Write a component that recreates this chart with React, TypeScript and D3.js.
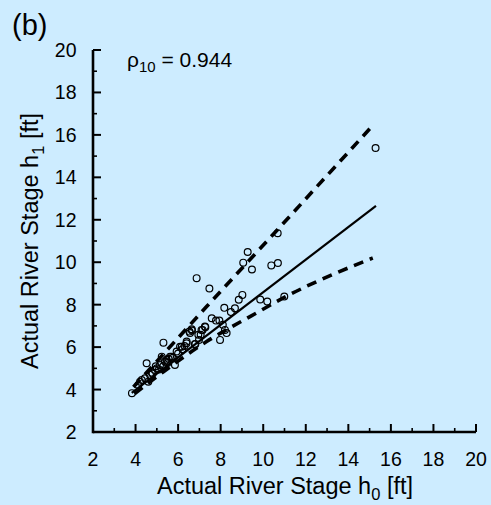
import React from "react";
import * as d3 from "d3";

const W = 491;
const H = 505;

// observed points: [h0, h1]
const pointsX = [
  3.83, 4.13, 4.21, 4.29, 4.44, 4.52, 4.6, 4.68, 4.76, 4.91, 4.8, 5.0, 5.1, 5.15, 5.23, 5.31, 5.3, 5.38,
  5.46, 5.5, 5.62, 5.7, 5.85, 5.93, 6.0, 6.09, 6.17, 6.2, 6.4, 6.4, 6.53, 6.56, 6.64, 6.65, 6.79, 6.81,
  6.87, 6.95, 6.98, 7.06, 7.1, 7.15, 7.26, 7.28, 7.47, 7.58, 7.78, 7.94, 7.97, 8.1, 8.17, 8.2, 8.28,
  8.48, 8.67, 8.85, 9.02, 9.06, 9.27, 9.47, 9.86, 10.19, 10.38, 10.68, 10.69, 10.99, 15.28, 5.55, 6.3,
  4.95, 5.75,
];
const pointsY = [
  3.83, 4.22, 4.37, 4.45, 4.53, 5.24, 4.37, 4.69, 4.8, 4.92, 4.75, 5.0, 4.95, 5.16, 5.55, 6.21, 5.1, 5.32,
  5.4, 5.25, 5.55, 5.55, 5.16, 5.79, 5.7, 6.02, 6.02, 5.9, 6.26, 6.18, 6.73, 6.66, 6.84, 6.78, 6.15, 6.14,
  9.25, 6.58, 6.34, 6.58, 6.81, 6.81, 6.97, 6.94, 8.76, 7.36, 7.25, 7.25, 6.34, 7.05, 7.85, 6.81, 6.66,
  7.65, 7.83, 8.23, 8.46, 9.98, 10.48, 9.66, 8.24, 8.15, 9.85, 11.37, 9.96, 8.38, 15.38, 5.45, 6.05,
  5.1, 5.5,
];

// fitted line and bounds: [h0, h1]
const fitX = [3.82, 15.3];
const fitY = [3.84, 12.65];
const upperX = [3.9, 7.34, 11.1, 15.2];
const upperY = [4.12, 7.91, 12.0, 16.5];
const lowerX = [3.95, 5.31, 7.34, 9.4, 11.2, 15.15];
const lowerY = [3.8, 4.84, 6.26, 7.45, 8.45, 10.2];

const majorTicks = [2, 4, 6, 8, 10, 12, 14, 16, 18, 20];
const minorTicks = [3, 5, 7, 9, 11, 13, 15, 17, 19];

const font = "'Liberation Sans', Arial, sans-serif";

export default function App() {
  const x = d3.scaleLinear().domain([2, 20]).range([93, 476]);
  const y = d3.scaleLinear().domain([2, 20]).range([432, 50]);

  const line = d3
    .line<[number, number]>()
    .x((d) => x(d[0]))
    .y((d) => y(d[1]));
  const curve = d3
    .line<[number, number]>()
    .x((d) => x(d[0]))
    .y((d) => y(d[1]))
    .curve(d3.curveMonotoneX);

  const fit = fitX.map((v, i) => [v, fitY[i]] as [number, number]);
  const upper = upperX.map((v, i) => [v, upperY[i]] as [number, number]);
  const lower = lowerX.map((v, i) => [v, lowerY[i]] as [number, number]);

  const x0 = x(2);
  const y0 = y(2);

  return (
    <svg
      width={W}
      height={H}
      style={{ position: "absolute", left: 0, top: 0, background: "#cdecff" }}
      fontFamily={font}
    >
      <rect x={0} y={0} width={W} height={H} fill="#cdecff" />
      <text x={12} y={35} fontSize={29}>
        (b)
      </text>

      {/* axes */}
      <line x1={x0} x2={x(20)} y1={y0} y2={y0} stroke="#000" strokeWidth={2.6} />
      <line x1={x0} x2={x0} y1={y0 + 1.3} y2={y(20)} stroke="#000" strokeWidth={2.6} />
      {majorTicks.map((t) => (
        <g key={"mx" + t}>
          <line x1={x(t)} x2={x(t)} y1={y0} y2={y0 - 8} stroke="#000" strokeWidth={2} />
          <line x1={x0} x2={x0 + 8} y1={y(t)} y2={y(t)} stroke="#000" strokeWidth={2} />
          <text x={x(t)} y={465.5} fontSize={19.5} textAnchor="middle">
            {t}
          </text>
          <text x={76.5} y={y(t) + 7} fontSize={19.5} textAnchor="end">
            {t}
          </text>
        </g>
      ))}
      {minorTicks.map((t) => (
        <g key={"mn" + t}>
          <line x1={x(t)} x2={x(t)} y1={y0} y2={y0 - 4} stroke="#000" strokeWidth={1.6} />
          <line x1={x0} x2={x0 + 4} y1={y(t)} y2={y(t)} stroke="#000" strokeWidth={1.6} />
        </g>
      ))}

      {/* lines */}
      <path d={line(fit) || ""} fill="none" stroke="#000" strokeWidth={2.2} />
      <path
        d={line(upper) || ""}
        fill="none"
        stroke="#000"
        strokeWidth={3.6}
        strokeDasharray="10,7"
      />
      <path
        d={curve(lower) || ""}
        fill="none"
        stroke="#000"
        strokeWidth={3.6}
        strokeDasharray="10,7"
      />

      {/* points */}
      {pointsX.map((v, i) => (
        <circle
          key={i}
          cx={x(v)}
          cy={y(pointsY[i])}
          r={3.4}
          fill="none"
          stroke="#000"
          strokeWidth={1.2}
        />
      ))}

      <text x={127} y={67} fontSize={21}>
        ρ
        <tspan fontSize={15} dy={5}>
          10
        </tspan>
        <tspan dy={-5}> = 0.944</tspan>
      </text>

      <text x={285} y={494} fontSize={23.5} textAnchor="middle">
        Actual River Stage h
        <tspan fontSize={16.5} dy={6}>
          0
        </tspan>
        <tspan dy={-6}> [ft]</tspan>
      </text>
      <text
        transform={`translate(38,241) rotate(-90)`}
        fontSize={23.5}
        textAnchor="middle"
      >
        Actual River Stage h
        <tspan fontSize={16.5} dy={6}>
          1
        </tspan>
        <tspan dy={-6}> [ft]</tspan>
      </text>
    </svg>
  );
}
